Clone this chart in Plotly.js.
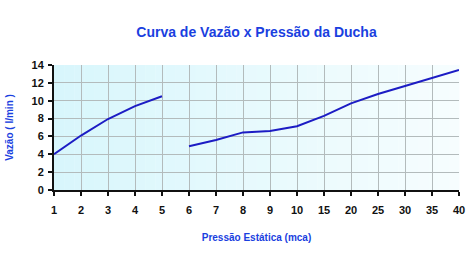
<!DOCTYPE html>
<html>
<head>
<meta charset="utf-8">
<script src="https://cdn.plot.ly/plotly-3.0.1.min.js"></script>
<style>html,body{margin:0;padding:0;background:#fff;}#chart{width:474px;height:266px;}</style>
</head>
<body>
<div id="chart"></div>
<script>
// Data
const categories = ["1","2","3","4","5","6","7","8","9","10","15","20","25","30","35","40"];
const seg1X = ["1","2","3","4","5"];
const seg1Y = [4.0, 6.1, 7.95, 9.4, 10.5];
const seg2X = ["6","7","8","9","10","15","20","25","30","35","40"];
const seg2Y = [4.9, 5.6, 6.45, 6.6, 7.15, 8.3, 9.7, 10.75, 11.65, 12.55, 13.45];
const yTicks = [0,2,4,6,8,10,12,14];

// Background gradient bands (decorative)
const shapes = [];
const nBands = 40;
const c0 = [216,246,252], c1 = [246,253,254];
for (let i = 0; i < nBands; i++) {
  const t = i / (nBands - 1);
  const c = c0.map((v, k) => Math.round(v + (c1[k] - v) * t));
  shapes.push({type:'rect', xref:'x domain', yref:'y domain', x0:i/nBands, x1:(i+1)/nBands + 0.001, y0:0, y1:1,
    fillcolor:`rgb(${c[0]},${c[1]},${c[2]})`, line:{width:0}, layer:'below'});
}

const lineStyle = {color:'#1c1cc4', width:2};
const traces = [
  {x: seg1X, y: seg1Y, type:'scatter', mode:'lines', line: lineStyle, hoverinfo:'skip'},
  {x: seg2X, y: seg2Y, type:'scatter', mode:'lines', line: lineStyle, hoverinfo:'skip'}
];

const font = 'Liberation Sans, Arial, sans-serif';
const layout = {
  width: 474, height: 266,
  margin: {l:54, r:15, t:65, b:76},
  paper_bgcolor:'#ffffff', plot_bgcolor:'rgba(0,0,0,0)',
  showlegend:false,
  shapes: shapes,
  title: {text:'Curva de Vazão x Pressão da Ducha', font:{family:font, size:14, color:'#1a3fe0', weight:'bold'},
          x:0.5, xref:'paper', xanchor:'center', y:0.88, yref:'container', yanchor:'middle'},
  xaxis: {
    type:'category', categoryorder:'array', categoryarray: categories,
    range:[0, 15], fixedrange:true,
    showgrid:true, gridcolor:'#b3bbbc', gridwidth:1,
    showline:true, linecolor:'#111', linewidth:2,
    ticks:'outside', ticklen:4, tickwidth:2, tickcolor:'#111',
    tickfont:{family:font, size:11, color:'#111', weight:'bold'},
    ticklabelstandoff: 5,
    zeroline:false,
    title:{text:'Pressão Estática (mca)', font:{family:font, size:10, color:'#1a3fe0', weight:'bold'}, standoff:19}
  },
  yaxis: {
    range:[0,14], tickvals: yTicks, fixedrange:true,
    showgrid:true, gridcolor:'#b3bbbc', gridwidth:1,
    showline:true, linecolor:'#111', linewidth:2,
    ticks:'outside', ticklen:4, tickwidth:2, tickcolor:'#111',
    tickfont:{family:font, size:11, color:'#111', weight:'bold'},
    ticklabelstandoff: 2,
    zeroline:false,
    title:{text:'Vazão ( l/min )', font:{family:font, size:10, color:'#1a3fe0', weight:'bold'}, standoff:16}
  }
};

Plotly.newPlot('chart', traces, layout, {staticPlot:true, displayModeBar:false});
</script>
</body>
</html>
